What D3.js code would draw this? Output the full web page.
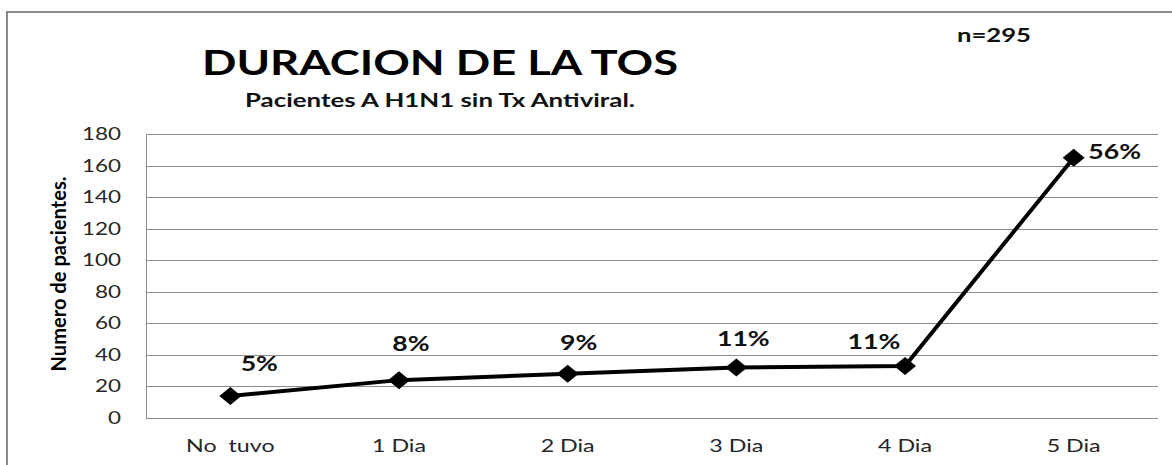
<!DOCTYPE html>
<html>
<head>
<meta charset="utf-8">
<script src="https://cdnjs.cloudflare.com/ajax/libs/d3/7.8.5/d3.min.js"></script>
<style>
  body { margin: 0; background: #fff; }
  svg { display: block; font-family: Lato, "Open Sans", sans-serif; }
</style>
</head>
<body>
<div id="chart"></div>
<script>
var categories = ["No  tuvo", "1 Dia", "2 Dia", "3 Dia", "4 Dia", "5 Dia"];
var patients = [14, 24, 28, 32, 33, 165];
var percentLabels = ["5%", "8%", "9%", "11%", "11%", "56%"];
var yTicks = [0, 20, 40, 60, 80, 100, 120, 140, 160, 180];
// manual label nudges (dx, dy from marker), like the excel original
var labelNudge = [[29, -32], [12, -37], [11, -31], [7, -29], [-31, -24], [41, -6]];

var width = 1172, height = 465;
var margin = { left: 146, right: 14, top: 134, bottom: 47 };

// the original font is wider than Lato, so stretch text along its baseline
function widen(sel, factor) {
	sel.each(function() {
		var w = this.getComputedTextLength();
		d3.select(this)
			.attr("textLength", w * factor)
			.attr("lengthAdjust", "spacingAndGlyphs");
	});
}

var svg = d3.select("#chart").append("svg")
	.attr("width", width)
	.attr("height", height);

// outer chart frame
svg.append("rect")
	.attr("x", 7).attr("y", 12)
	.attr("width", 1300).attr("height", 600)
	.attr("fill", "none")
	.attr("stroke", "#8a8a8a")
	.attr("stroke-width", 2);

var x = d3.scaleBand()
	.domain(categories)
	.range([margin.left, width - margin.right]);

var y = d3.scaleLinear()
	.domain([0, 180])
	.range([height - margin.bottom, margin.top]);

// gridlines
svg.append("g")
	.selectAll("line")
	.data(yTicks)
	.enter()
	.append("line")
	.attr("x1", margin.left)
	.attr("x2", width - margin.right)
	.attr("y1", function(d) { return Math.round(y(d)) + 0.5; })
	.attr("y2", function(d) { return Math.round(y(d)) + 0.5; })
	.attr("stroke", "#8c8c8c")
	.attr("stroke-width", 1);

svg.append("line")
	.attr("x1", margin.left + 0.5).attr("x2", margin.left + 0.5)
	.attr("y1", y(180)).attr("y2", y(0))
	.attr("stroke", "#8c8c8c");

// y axis
var yAxis = svg.append("g")
	.attr("transform", "translate(" + (margin.left - 25) + ",0)")
	.call(d3.axisLeft(y).tickValues(yTicks).tickSize(0).tickPadding(0));
yAxis.select(".domain").remove();
yAxis.selectAll("text")
	.attr("font-size", 17)
	.attr("font-family", "Lato, sans-serif")
	.attr("fill", "#262626")
	.call(widen, 1.32);

// x axis
var xAxis = svg.append("g")
	.attr("transform", "translate(0," + y(0) + ")")
	.call(d3.axisBottom(x).tickSize(0).tickPadding(21));
xAxis.select(".domain").remove();
xAxis.selectAll("text")
	.attr("font-size", 18)
	.attr("font-family", "Lato, sans-serif")
	.attr("fill", "#262626")
	.style("white-space", "pre")
	.call(widen, 1.29);

var cx = function(i) { return x(categories[i]) + x.bandwidth() / 2; };

// line
var line = d3.line()
	.x(function(d, i) { return cx(i); })
	.y(function(d) { return y(d); });

svg.append("path")
	.datum(patients)
	.attr("d", line)
	.attr("fill", "none")
	.attr("stroke", "#000")
	.attr("stroke-width", 4)
	.attr("stroke-linejoin", "round");

// diamond markers
svg.append("g")
	.selectAll("path")
	.data(patients)
	.enter()
	.append("path")
	.attr("d", "M0,-9L11,0L0,9L-11,0Z")
	.attr("transform", function(d, i) { return "translate(" + cx(i) + "," + y(d) + ")"; })
	.attr("fill", "#000");

// percent labels
svg.append("g")
	.selectAll("text")
	.data(percentLabels)
	.enter()
	.append("text")
	.text(function(d) { return d; })
	.attr("x", function(d, i) { return cx(i) + labelNudge[i][0]; })
	.attr("y", function(d, i) { return y(patients[i]) + labelNudge[i][1]; })
	.attr("dy", "0.36em")
	.attr("text-anchor", "middle")
	.attr("font-size", 21)
	.attr("font-weight", "bold")
	.attr("fill", "#111")
	.call(widen, 1.27);

// titles
svg.append("text")
	.attr("x", 440).attr("y", 75)
	.attr("text-anchor", "middle")
	.attr("font-size", 34)
	.attr("font-weight", "bold")
	.attr("fill", "#000")
	.attr("textLength", 476)
	.attr("lengthAdjust", "spacingAndGlyphs")
	.text("DURACION DE LA TOS");

svg.append("text")
	.attr("x", 440).attr("y", 107)
	.attr("text-anchor", "middle")
	.attr("font-size", 18)
	.attr("font-weight", "bold")
	.attr("fill", "#111")
	.attr("textLength", 390)
	.attr("lengthAdjust", "spacingAndGlyphs")
	.text("Pacientes A H1N1 sin Tx Antiviral.");

svg.append("text")
	.attr("x", 994).attr("y", 42)
	.attr("text-anchor", "middle")
	.attr("font-size", 19)
	.attr("font-weight", "bold")
	.attr("fill", "#111")
	.attr("textLength", 74)
	.attr("lengthAdjust", "spacingAndGlyphs")
	.text("n=295");

svg.append("text")
	.attr("transform", "translate(66,274) rotate(-90)")
	.attr("text-anchor", "middle")
	.attr("font-size", 20)
	.attr("font-weight", "bold")
	.attr("fill", "#000")
	.attr("textLength", 195)
	.attr("lengthAdjust", "spacingAndGlyphs")
	.text("Numero de pacientes.");
</script>
</body>
</html>
